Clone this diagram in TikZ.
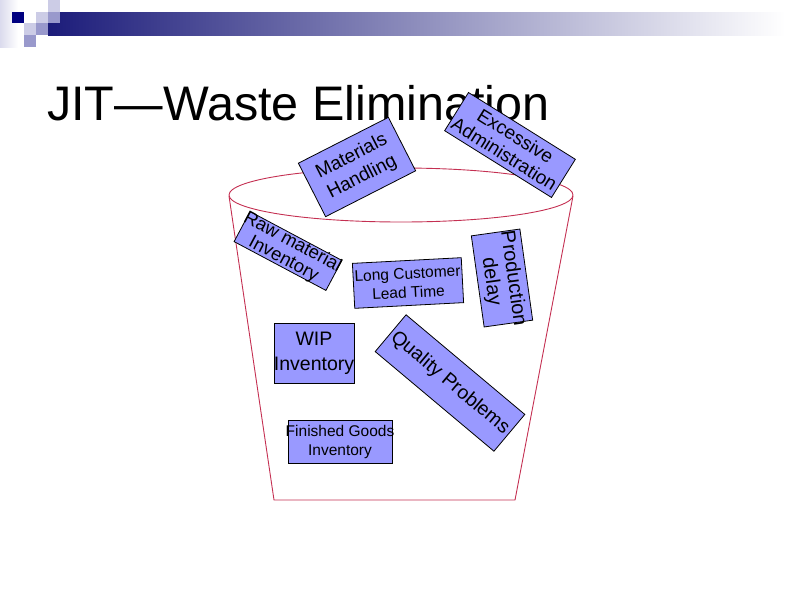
\documentclass[tikz,border=0pt]{standalone}
\usepackage{fontspec}
\setmainfont{Liberation Sans}
\begin{document}
\begin{tikzpicture}[x=1pt,y=-1pt,
  wastebox/.style={draw=black, line width=0.8pt, fill=boxblue, inner sep=0pt, outer sep=0pt},
  wastetext/.style={inner sep=0pt, align=center, text=black},
  bucketline/.style={draw=bucketred, line width=0.9pt}]
\definecolor{boxblue}{RGB}{153,153,255}
\definecolor{bucketred}{RGB}{196,48,82}
\definecolor{navy}{RGB}{0,0,128}
\definecolor{barnavy}{RGB}{28,28,122}
\definecolor{lightlav}{RGB}{204,204,230}
\definecolor{medlav}{RGB}{153,153,204}
\useasboundingbox (0,0) rectangle (800,600);
% top decoration
\shade[left color=lightlav!70, right color=white] (0,0) rectangle (18,47);
\shade[left color=barnavy, right color=white] (48,12) rectangle (785,35);
\fill[navy] (12,12) rectangle (24,23);
\fill[lightlav] (36,12) rectangle (48,23);
\fill[medlav] (48,12) rectangle (60,23);
\fill[lightlav] (24,23) rectangle (36,35);
\fill[medlav] (36,23) rectangle (48,35);
\fill[lightlav] (48,0) rectangle (60,12);
\fill[medlav] (24,35) rectangle (36,47);
% title
\node[anchor=base west, inner sep=0pt, font=\fontsize{48.5}{56}\selectfont] (title) at (47,120) {JIT—Waste Elimination};
% bucket
\draw[bucketline] (401,195) ellipse [x radius=172, y radius=27];
\coordinate (tl) at (229,196);
\coordinate (tr) at (573,196);
\coordinate (bl) at (274,500);
\coordinate (br) at (515,500);
\draw[bucketline] (tl) -- (bl) -- (br) -- (tr);
% boxes
\node[wastebox, rotate=27, minimum width=101, minimum height=60] (mh) at (357,167) {};
\node[wastetext, rotate=27, font=\fontsize{19}{23}\selectfont] (mht) at (mh.center) {Materials\\Handling};
\node[wastebox, rotate=-32, minimum width=126, minimum height=45] (ea) at (510,145) {};
\node[wastetext, rotate=-32, font=\fontsize{19}{21}\selectfont] (eat) at (ea.center) {Excessive\\Administration};
\node[wastebox, rotate=-28, minimum width=104, minimum height=34] (rm) at (288,251) {};
\node[wastetext, rotate=-28, font=\fontsize{18.5}{19}\selectfont] (rmt) at (rm.center) {Raw material\\Inventory};
\node[wastebox, rotate=3, minimum width=109, minimum height=45] (lc) at (408,283) {};
\node[wastetext, rotate=3, font=\fontsize{15.5}{19}\selectfont] (lct) at (lc.center) {Long Customer\\Lead Time};
\node[wastebox, rotate=-82, minimum width=92, minimum height=49] (pd) at (502,278) {};
\node[wastetext, rotate=-82, font=\fontsize{20}{22}\selectfont] (pdt) at ([shift={(0,2)}]pd.center) {Production\\delay};
\node[wastebox, minimum width=80, minimum height=60] (wip) at (314,353) {};
\node[wastetext, font=\fontsize{19.5}{25}\selectfont] (wipt) at (wip.center) {WIP\\Inventory};
\node[wastebox, rotate=-40, minimum width=155, minimum height=48] (qp) at (450,383) {};
\node[wastetext, rotate=-40, font=\fontsize{19.5}{22}\selectfont] (qpt) at (qp.center) {Quality Problems};
\node[wastebox, minimum width=104, minimum height=43] (fg) at (340,442) {};
\node[wastetext, font=\fontsize{15.5}{19}\selectfont] (fgt) at (fg.center) {Finished Goods\\Inventory};
\end{tikzpicture}
\end{document}
